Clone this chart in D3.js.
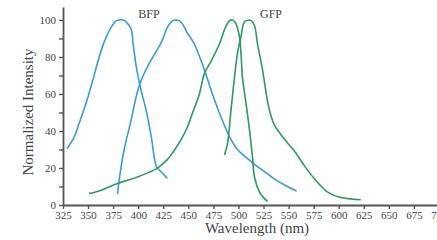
<!DOCTYPE html>
<html>
<head>
<meta charset="utf-8">
<script src="https://cdn.jsdelivr.net/npm/d3@7"></script>
<style>
  body { margin: 0; background: #fff; }
  #chart text { font-family: "Liberation Serif", serif; fill: #444; }
</style>
</head>
<body>
<div id="chart"></div>
<script>
var width = 437;
var height = 240;

// wavelength ticks
var xTicks = [325, 350, 375, 400, 425, 450, 475, 500, 525, 550, 575, 600, 625, 650, 675, 700];
var yTicks = [0, 10, 20, 30, 40, 50, 60, 70, 80, 90, 100];

// BFP excitation
var bfpExNm = [329, 336, 341, 348, 356, 360, 366, 373, 378, 381, 385, 388, 393, 395, 398, 402, 408, 413, 418, 421, 429];
var bfpExVal = [30.5, 36.5, 44, 55, 70, 78, 88, 96, 99.5, 100, 100, 99, 95, 87, 75, 64, 51, 37, 21, 19, 14.4];

// BFP emission
var bfpEmNm = [379.5, 381, 386, 393, 398, 403, 411, 419, 424, 429, 434, 437, 441, 444, 449, 456, 466, 474, 483, 491, 499, 507, 516, 526, 536, 547, 558];
var bfpEmVal = [6, 13.5, 30, 46, 58.5, 67.5, 76.5, 84, 89, 96, 99.5, 100, 99.5, 98, 93, 87, 73, 60, 47, 37, 30, 26, 22, 18, 14, 10.5, 7.5];

// GFP excitation
var gfpExNm = [351, 356, 363, 372, 380, 390, 400, 410, 418, 424, 429, 434, 439, 444, 449, 453, 461, 466, 473, 481, 487, 491, 494, 497, 501, 502.5, 504, 507.5, 511, 514, 516, 521, 525, 529];
var gfpExVal = [6.3, 6.8, 8, 10, 11.7, 13.5, 15.3, 17.5, 19.5, 22, 24.5, 28, 32, 36.5, 42, 48, 60, 71, 78, 87, 96, 99.5, 100, 98.5, 91, 82, 69, 55, 40.5, 26, 15, 7, 4, 2];

// GFP emission
var gfpEmNm = [486, 489, 492.5, 496, 499, 502.5, 506, 510, 513, 516, 519, 524, 529, 532, 536, 546, 556, 566, 576, 589, 602, 612, 622];
var gfpEmVal = [27, 33, 51, 69, 82, 91, 99, 100, 99.5, 97, 87, 73, 56, 49, 43, 35.5, 29, 21, 14, 7, 4, 3.3, 2.8];

var blue = "#3a9bd5";
var green = "#2f9a5e";

function createSVG(width, height) {
  return d3.select("#chart")
    .append("svg")
    .attr("width", width)
    .attr("height", height);
}

function zipSeries(nm, val) {
  return nm.map(function(d, i) { return { nm: d, v: val[i] }; });
}

function main() {
  var svg = createSVG(width, height);

  var x = d3.scaleLinear().domain([325, 700]).range([63, 439]);
  var y = d3.scaleLinear().domain([0, 107]).range([205, 7]);

  var line = d3.line()
    .x(function(d) { return x(d.nm); })
    .y(function(d) { return y(d.v); })
    .curve(d3.curveCatmullRom);

  var series = [
    { data: zipSeries(bfpExNm, bfpExVal), color: blue },
    { data: zipSeries(bfpEmNm, bfpEmVal), color: blue },
    { data: zipSeries(gfpExNm, gfpExVal), color: green },
    { data: zipSeries(gfpEmNm, gfpEmVal), color: green }
  ];

  svg.selectAll("path.curve")
    .data(series)
    .enter()
    .append("path")
    .attr("class", "curve")
    .attr("d", function(d) { return line(d.data); })
    .attr("fill", "none")
    .attr("stroke", function(d) { return d.color; })
    .attr("stroke-width", 1.6);

  // axes
  var xAxis = svg.append("g")
    .attr("transform", "translate(0," + y(0) + ")")
    .call(d3.axisBottom(x).tickValues(xTicks).tickSize(4).tickSizeOuter(0).tickPadding(2));
  xAxis.selectAll("text").style("font-size", "11px");

  var yAxis = svg.append("g")
    .attr("transform", "translate(" + x(325) + ",0)")
    .call(d3.axisLeft(y).tickValues(yTicks).tickSize(4).tickSizeOuter(0).tickPadding(3)
      .tickFormat(function(d) { return d % 20 === 0 ? d : ""; }));
  yAxis.selectAll("text").style("font-size", "11px");

  svg.selectAll(".domain").attr("stroke", "#555").attr("stroke-width", 1.8);
  svg.selectAll(".tick line").attr("stroke", "#555").attr("stroke-width", 1.4);

  // titles
  svg.append("text")
    .attr("x", 257)
    .attr("y", 233)
    .attr("text-anchor", "middle")
    .style("font-size", "15px")
    .text("Wavelength (nm)");

  svg.append("text")
    .attr("transform", "translate(33,112) rotate(-90)")
    .attr("text-anchor", "middle")
    .style("font-size", "15px")
    .text("Normalized Intensity");

  svg.append("text")
    .attr("x", 149)
    .attr("y", 18)
    .attr("text-anchor", "middle")
    .style("font-size", "12px")
    .text("BFP");

  svg.append("text")
    .attr("x", 271)
    .attr("y", 18)
    .attr("text-anchor", "middle")
    .style("font-size", "12px")
    .text("GFP");
}

window.onload = function() {
  main();
};
</script>
</body>
</html>
